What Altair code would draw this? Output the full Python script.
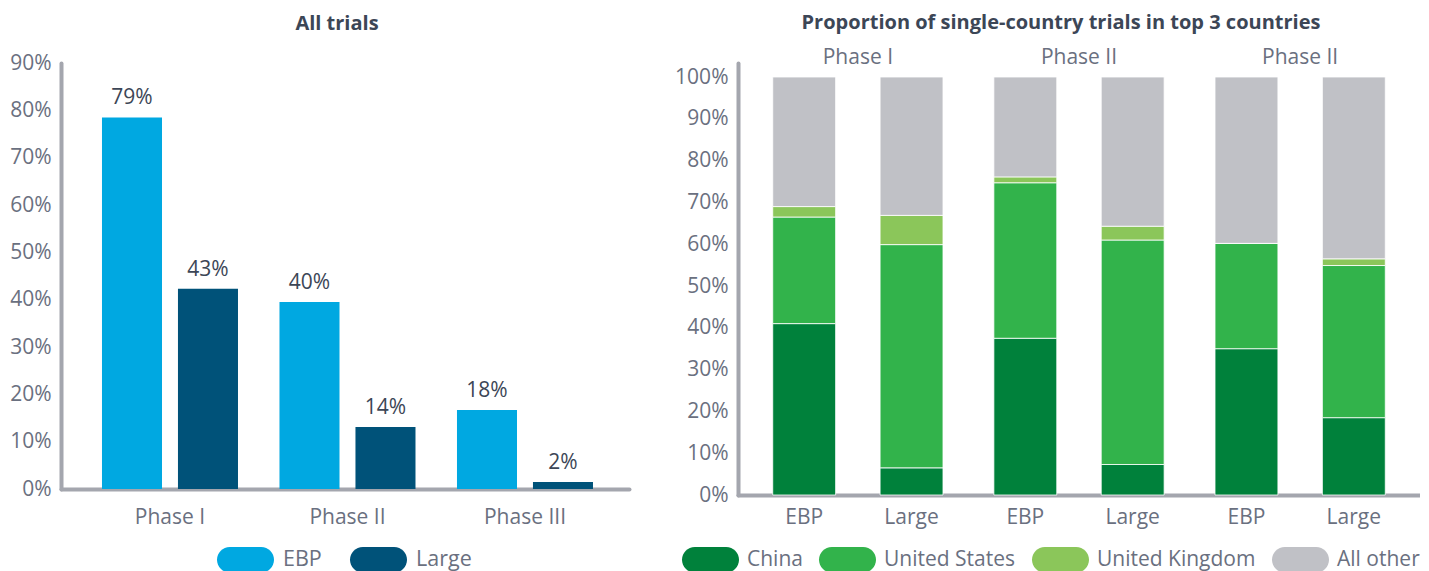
import altair as alt
import pandas as pd

# ---------------- data ----------------
phases = ["Phase I", "Phase II", "Phase III"]
trial_types = ["EBP", "Large"]

# Left panel: all trials
all_ebp = [78.5, 39.5, 16.7]
all_large = [42.3, 13.1, 1.5]
all_ebp_labels = ["79%", "40%", "18%"]
all_large_labels = ["43%", "14%", "2%"]

# Right panel: proportion of single-country trials (order: EBP I, Large I, EBP II, Large II, EBP III, Large III)
bar_phase = ["Phase I", "Phase I", "Phase II", "Phase II", "Phase III", "Phase III"]
bar_type = ["EBP", "Large", "EBP", "Large", "EBP", "Large"]
countries = ["China", "United States", "United Kingdom", "All other"]
china = [41.0, 6.5, 37.5, 7.3, 35.0, 18.5]
united_states = [25.5, 53.4, 37.2, 53.7, 25.2, 36.4]
united_kingdom = [2.5, 7.0, 1.4, 3.3, 0.0, 1.6]
all_other = [31.0, 33.1, 23.9, 35.7, 39.8, 43.5]
phase_headers = ["Phase I", "Phase II", "Phase II"]

# ---------------- style ----------------
FONT = "Open Sans"
AXIS_GREY = "#a4a6ae"
LABEL_GREY = "#6a7080"
DARK = "#3c4656"
type_colors = ["#00a8e1", "#005279"]
country_colors = ["#00813b", "#32b34b", "#8bc65a", "#c0c1c6"]
PILL = "M-0.55,-0.45 L0.55,-0.45 A0.45,0.45 0 0 1 0.55,0.45 L-0.55,0.45 A0.45,0.45 0 0 1 -0.55,-0.45 Z"
FS = 21

# ---------------- left chart ----------------
rows1 = []
for i, p in enumerate(phases):
    rows1.append({"phase": p, "type": "EBP", "value": all_ebp[i] / 100, "label": all_ebp_labels[i]})
    rows1.append({"phase": p, "type": "Large", "value": all_large[i] / 100, "label": all_large_labels[i]})
df1 = pd.DataFrame(rows1)

x1 = alt.X("phase:N", sort=phases,
           scale=alt.Scale(paddingInner=0, paddingOuter=0.1, align=0.57),
           axis=alt.Axis(title=None, labelAngle=0, ticks=False, labelPadding=17,
                         labelFontSize=FS, labelColor=LABEL_GREY,
                         domainColor=AXIS_GREY, domainWidth=4, domainCap="round"))
xo1 = alt.XOffset("type:N", sort=trial_types,
                  scale=alt.Scale(paddingInner=0.21, paddingOuter=0.273))
y1 = alt.Y("value:Q",
           scale=alt.Scale(domain=[0, 0.9], nice=False),
           axis=alt.Axis(title=None, format=".0%", values=[i / 10 for i in range(10)],
                         grid=False, ticks=False, labelPadding=10, labelFontSize=FS,
                         labelColor=LABEL_GREY, domainColor=AXIS_GREY, domainWidth=4,
                         domainCap="round"))

bars1 = alt.Chart(df1).mark_bar().encode(
    x=x1, xOffset=xo1, y=y1,
    color=alt.Color("type:N", sort=trial_types,
                    scale=alt.Scale(domain=trial_types, range=type_colors),
                    legend=alt.Legend(title=None, orient="none", direction="horizontal",
                                      legendX=156, legendY=468,
                                      symbolType=PILL, symbolSize=3249, symbolStrokeWidth=0,
                                      labelFontSize=21.5, labelColor=LABEL_GREY, labelOffset=9,
                                      labelLimit=400, columnPadding=27)),
)
text1 = alt.Chart(df1).mark_text(baseline="bottom", dy=-9, fontSize=FS, color=DARK).encode(
    x=x1, xOffset=xo1, y=y1, text="label:N")

left = alt.layer(bars1, text1).properties(
    width=568, height=426,
    title=alt.TitleParams("All trials", fontSize=20, fontWeight="bold", color=DARK,
                          anchor="middle", offset=18, dx=-8),
)

# ---------------- right chart ----------------
rows2 = []
series = [china, united_states, united_kingdom, all_other]
for j in range(len(bar_phase)):
    for k, c in enumerate(countries):
        rows2.append({"phase": bar_phase[j], "type": bar_type[j], "country": c,
                      "value": series[k][j] / 100, "order": k})
df2 = pd.DataFrame(rows2)
df_bottom = pd.DataFrame({"phase": bar_phase, "type": bar_type})
df_top = pd.DataFrame({"phase": phases, "header": phase_headers})

H2 = 432
x2 = alt.X("phase:N", sort=phases,
           scale=alt.Scale(paddingInner=0, paddingOuter=0.042),
           axis=alt.Axis(title=None, labels=False, ticks=False,
                         domainColor=AXIS_GREY, domainWidth=4, domainCap="round"))
xo2 = alt.XOffset("type:N", sort=trial_types,
                  scale=alt.Scale(paddingInner=0.414, paddingOuter=0.237))

bars2 = alt.Chart(df2).mark_bar(stroke="white", strokeWidth=0.8).encode(
    x=x2, xOffset=xo2,
    y=alt.Y("value:Q", stack="zero",
            scale=alt.Scale(domain=[0, 1.0335], nice=False),
            axis=alt.Axis(title=None, format=".0%", values=[i / 10 for i in range(11)],
                          grid=False, ticks=False, labelPadding=10, labelFontSize=FS,
                          labelColor=LABEL_GREY, domainColor=AXIS_GREY, domainWidth=4,
                          domainCap="round")),
    color=alt.Color("country:N", sort=countries,
                    scale=alt.Scale(domain=countries, range=country_colors),
                    legend=alt.Legend(title=None, orient="none", direction="horizontal",
                                      legendX=-56, legendY=468,
                                      symbolType=PILL, symbolSize=3249, symbolStrokeWidth=0,
                                      labelFontSize=21, labelColor=LABEL_GREY, labelOffset=8,
                                      labelLimit=400, columnPadding=15)),
    order=alt.Order("order:Q"),
)
bottom_labels = alt.Chart(df_bottom).mark_text(fontSize=FS, color=LABEL_GREY, baseline="middle").encode(
    x=x2, xOffset=xo2, y=alt.value(H2 + 23), text="type:N")
top_labels = alt.Chart(df_top).mark_text(fontSize=FS, color=LABEL_GREY, baseline="middle").encode(
    x=x2, y=alt.value(-5), text="header:N")

right = alt.layer(bars2, bottom_labels, top_labels).properties(
    width=682, height=H2,
    title=alt.TitleParams("Proportion of single-country trials in top 3 countries",
                          fontSize=20, fontWeight="bold", color=DARK,
                          anchor="middle", offset=14, dx=-18),
)

chart = alt.hconcat(left, right, spacing=45).resolve_scale(
    color="independent", x="independent", y="independent", xOffset="independent"
).resolve_legend(color="independent").properties(
    padding={"left": 1, "top": 5, "right": 0, "bottom": 5}
).configure(font=FONT).configure_view(stroke=None)

chart.save("out.html", embed_options={"renderer": "svg", "actions": False})
